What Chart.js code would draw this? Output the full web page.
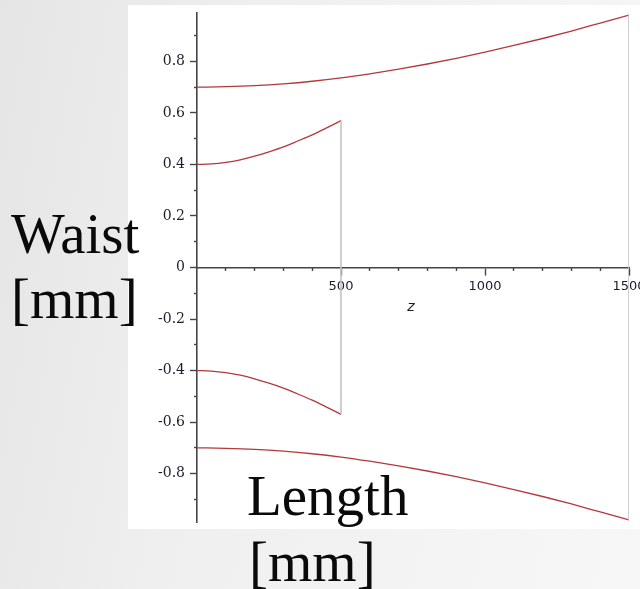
<!DOCTYPE html>
<html>
<head>
<meta charset="utf-8">
<script src="https://cdn.jsdelivr.net/npm/chart.js@4/dist/chart.umd.min.js"></script>
<style>
  html, body { margin: 0; padding: 0; }
  body {
    width: 640px; height: 589px; position: relative; overflow: hidden;
    background: linear-gradient(100deg, #e5e5e5 0%, #efefef 35%, #f7f7f7 100%);
  }
  #panel { position: absolute; left: 128px; top: 5px; width: 512px; height: 524px; background: #ffffff; }
  #c { position: absolute; left: 0; top: 0; }
</style>
</head>
<body>
<div id="panel"></div>
<canvas id="c" width="640" height="589"></canvas>
<script>
// Beam radius along the optical axis (z in mm, waist in mm)
const zOuter = [0, 100, 200, 300, 400, 500, 600, 700, 800, 900, 1000, 1100, 1200, 1300, 1400, 1500];
const wOuterUpper = [0.700, 0.702, 0.706, 0.713, 0.723, 0.736, 0.752, 0.770, 0.790, 0.812, 0.836, 0.862, 0.889, 0.918, 0.949, 0.980];
const wOuterLower = [-0.700, -0.702, -0.706, -0.713, -0.723, -0.736, -0.752, -0.770, -0.790, -0.812, -0.836, -0.862, -0.889, -0.918, -0.949, -0.980];

const zInner = [0, 50, 100, 150, 200, 250, 300, 350, 400, 450, 500];
const wInnerUpper = [0.400, 0.402, 0.408, 0.418, 0.432, 0.449, 0.468, 0.491, 0.515, 0.542, 0.570];
const wInnerLower = [-0.400, -0.402, -0.408, -0.418, -0.432, -0.449, -0.468, -0.491, -0.515, -0.542, -0.570];

// Vertical connectors at the end of each section
const zCut = [500, 500];
const wCut = [0.570, -0.570];
const zEnd = [1500, 1500];
const wEnd = [0.980, -0.980];

// Axis ranges and ticks
const zRange = [0, 1500];
const wRange = [-0.988, 0.988];
const xMajorTicks = [500, 1000, 1500];
const xMajorLabels = ['500', '1000', '1500'];
const xMinorTicks = [100, 200, 300, 400, 600, 700, 800, 900, 1100, 1200, 1300, 1400];
const yMajorTicks = [-0.8, -0.6, -0.4, -0.2, 0, 0.2, 0.4, 0.6, 0.8];
const yMajorLabels = ['-0.8', '-0.6', '-0.4', '-0.2', '0', '0.2', '0.4', '0.6', '0.8'];
const yMinorTicks = [-0.9, -0.7, -0.5, -0.3, -0.1, 0.1, 0.3, 0.5, 0.7, 0.9];

const toPoints = (xs, ys) => xs.map((x, i) => ({ x: x, y: ys[i] }));

const curveColor = '#b3393b';
const connectorColor = '#c4c4c4';
const axisColor = '#454545';
const tickTextColor = '#1c1c2e';

function curve(xs, ys) {
  return {
    data: toPoints(xs, ys), showLine: true, pointRadius: 0, borderWidth: 1.3,
    borderColor: curveColor, cubicInterpolationMode: 'monotone', xAxisID: 'x', yAxisID: 'y'
  };
}
function connector(xs, ys) {
  return {
    data: toPoints(xs, ys), showLine: true, pointRadius: 0, borderWidth: 1.6,
    borderColor: connectorColor, xAxisID: 'x', yAxisID: 'y'
  };
}

const zeroBox = s => { s.paddingLeft = 0; s.paddingRight = 0; s.paddingTop = 0; s.paddingBottom = 0; };

const slideLabels = {
  id: 'slideLabels',
  afterDraw(chart) {
    const ctx = chart.ctx;
    ctx.save();
    ctx.fillStyle = '#0a0a0a';
    ctx.textAlign = 'left';
    ctx.textBaseline = 'alphabetic';
    ctx.font = '57px "Liberation Serif", serif';
    ctx.fillText('Waist', 11, 253);
    ctx.fillText('[mm]', 11, 318);
    ctx.fillText('Length', 247, 515);
    ctx.fillText('[mm]', 249, 581);
    ctx.font = 'italic 14px "DejaVu Sans", sans-serif';
    ctx.fillStyle = tickTextColor;
    ctx.textAlign = 'center';
    ctx.textBaseline = 'middle';
    ctx.fillText('z', 411, 307);
    ctx.restore();
  }
};

new Chart(document.getElementById('c'), {
  type: 'scatter',
  data: {
    datasets: [
      connector(zCut, wCut),
      connector(zEnd, wEnd),
      curve(zOuter, wOuterUpper),
      curve(zOuter, wOuterLower),
      curve(zInner, wInnerUpper),
      curve(zInner, wInnerLower)
    ]
  },
  options: {
    responsive: false,
    devicePixelRatio: 1,
    animation: false,
    layout: { padding: { left: 0, right: 11, top: 13, bottom: 67 } },
    plugins: { legend: { display: false }, tooltip: { enabled: false }, title: { display: false } },
    scales: {
      x: {
        type: 'linear', axis: 'x', position: { y: 0 }, min: zRange[0], max: zRange[1],
        afterBuildTicks: s => { s.ticks = xMajorTicks.map(v => ({ value: v })); },
        afterFit: s => { s.height = 0; zeroBox(s); },
        grid: { drawOnChartArea: false, drawTicks: true, tickLength: 7, tickColor: axisColor, tickWidth: 1.4 },
        border: { display: true, color: axisColor, width: 1.6 },
        ticks: {
          autoSkip: false, maxRotation: 0, padding: 4, color: tickTextColor,
          font: { family: '"DejaVu Sans", sans-serif', size: 13 },
          callback: (v, i) => xMajorLabels[i]
        }
      },
      xMinor: {
        type: 'linear', axis: 'x', position: { y: 0 }, min: zRange[0], max: zRange[1],
        afterBuildTicks: s => { s.ticks = xMinorTicks.map(v => ({ value: v })); },
        afterFit: s => { s.height = 0; zeroBox(s); },
        grid: { drawOnChartArea: false, drawTicks: true, tickLength: 3, tickColor: axisColor, tickWidth: 1.4 },
        border: { display: false },
        ticks: { display: false }
      },
      y: {
        type: 'linear', axis: 'y', position: 'left', min: wRange[0], max: wRange[1],
        afterBuildTicks: s => { s.ticks = yMajorTicks.map(v => ({ value: v })); },
        afterFit: s => { s.width = 197; zeroBox(s); },
        grid: { drawOnChartArea: false, drawTicks: true, tickLength: 7, tickColor: axisColor, tickWidth: 1.4 },
        border: { display: true, color: axisColor, width: 1.6 },
        ticks: {
          autoSkip: false, padding: 5, color: tickTextColor,
          font: { family: '"DejaVu Serif", serif', size: 14 },
          callback: (v, i) => yMajorLabels[i]
        }
      },
      yMinor: {
        type: 'linear', axis: 'y', position: { x: 0 }, min: wRange[0], max: wRange[1],
        afterBuildTicks: s => { s.ticks = yMinorTicks.map(v => ({ value: v })); },
        afterFit: s => { s.width = 0; zeroBox(s); },
        grid: { drawOnChartArea: false, drawTicks: true, tickLength: 3, tickColor: axisColor, tickWidth: 1.4 },
        border: { display: false },
        ticks: { display: false }
      }
    }
  },
  plugins: [slideLabels]
});
</script>
</body>
</html>
